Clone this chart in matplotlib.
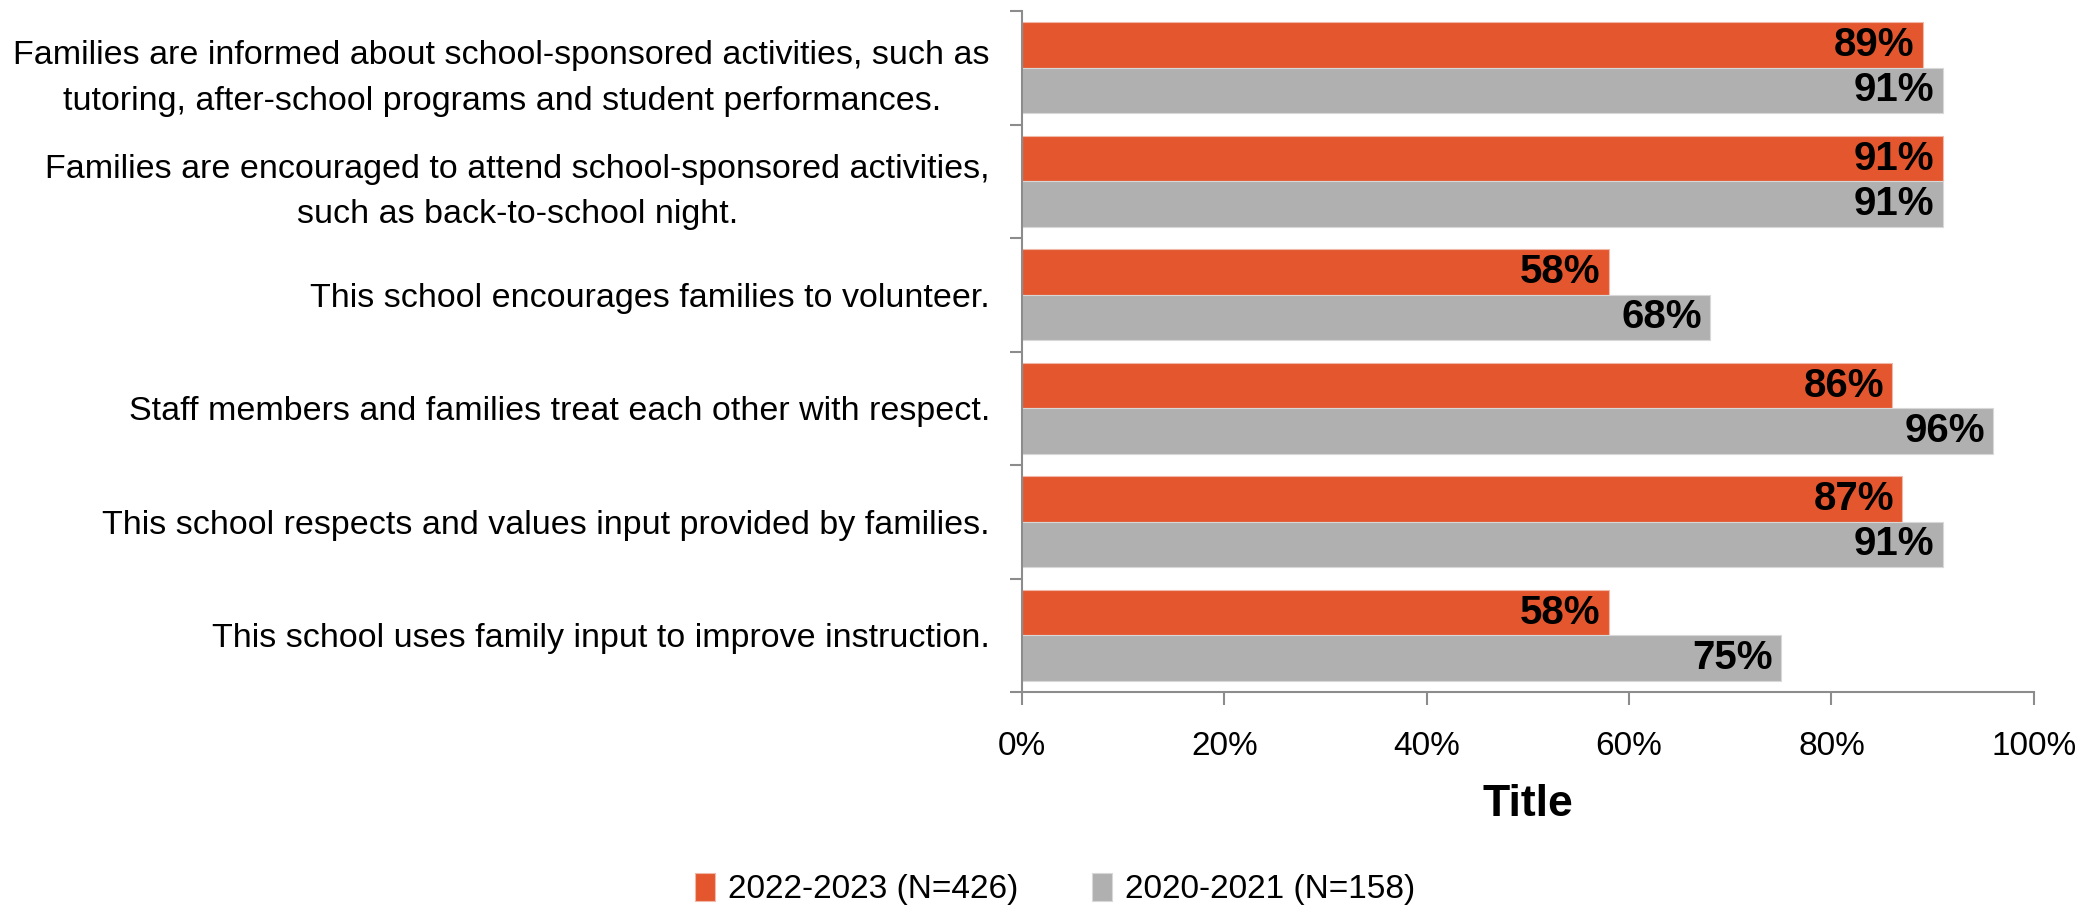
import matplotlib
matplotlib.use("Agg")
import matplotlib.pyplot as plt
from matplotlib import font_manager as fm
from matplotlib.ticker import PercentFormatter

names = {f.name for f in fm.fontManager.ttflist}
fam = "Liberation Sans Narrow" if "Liberation Sans Narrow" in names else "Liberation Sans"
plt.rcParams['font.family'] = [fam, 'DejaVu Sans']

categories = [
    "Families are informed about school-sponsored activities, such as\ntutoring, after-school programs and student performances.",
    "Families are encouraged to attend school-sponsored activities,\nsuch as back-to-school night.",
    "This school encourages families to volunteer.",
    "Staff members and families treat each other with respect.",
    "This school respects and values input provided by families.",
    "This school uses family input to improve instruction.",
]
series_names = ["2022-2023 (N=426)", "2020-2021 (N=158)"]
values_2022 = [89, 91, 58, 86, 87, 58]
values_2020 = [91, 91, 68, 96, 91, 75]
x_ticks = [0, 20, 40, 60, 80, 100]
axis_title = "Title"

orange = "#E4572E"
gray = "#B0B0B0"
axcol = "#8C8C8C"

fig = plt.figure(figsize=(20.94, 9.09), dpi=100)
ax = fig.add_axes([0.488, 0.2387, 0.9713 - 0.488, 0.9879 - 0.2387])

n = len(categories)
ys = list(range(n))
h = 0.4
b1 = ax.barh([y - h / 2 for y in ys], values_2022, height=h, color=orange,
             edgecolor="#F0B8A8", linewidth=0.8, label=series_names[0])
b2 = ax.barh([y + h / 2 for y in ys], values_2020, height=h, color=gray,
             edgecolor="#D8D8D8", linewidth=0.8, label=series_names[1])

fs = 24.5
for bars, vals in ((b1, values_2022), (b2, values_2020)):
    for r, v in zip(bars, vals):
        ax.annotate(f"{v}%", (v, r.get_y() + r.get_height() / 2),
                    xytext=(-6, 0), textcoords="offset points",
                    ha="right", va="center", fontsize=29, fontweight="bold", color="black")

ax.set_xlim(0, 100)
ax.set_ylim(n - 0.5, -0.5)
ax.xaxis.set_major_formatter(PercentFormatter(decimals=0))
ax.set_xticks(x_ticks)

ax.set_yticks(ys)
ax.set_yticklabels(categories, multialignment="center", fontsize=fs, linespacing=1.6)
ax.tick_params(axis="y", length=0, pad=23)
ax.set_yticks([y - 0.5 for y in range(n + 1)], minor=True)
ax.tick_params(axis="y", which="minor", length=9, width=1.5, color=axcol)
ax.tick_params(axis="x", length=9, width=1.5, color=axcol, labelsize=24, pad=19, direction="out")

for s in ("top", "right"):
    ax.spines[s].set_visible(False)
for s in ("left", "bottom"):
    ax.spines[s].set_color(axcol)
    ax.spines[s].set_linewidth(1.5)

ax.set_xlabel(axis_title, fontsize=32, fontweight="bold", labelpad=16)

fig.legend(handles=[b1, b2], labels=series_names, loc="center", bbox_to_anchor=(0.504, 0.022),
           ncol=2, frameon=False, fontsize=24, handlelength=0.6, handleheight=0.9,
           handletextpad=0.4, columnspacing=2.2)

fig.savefig("out.png", dpi=100)
